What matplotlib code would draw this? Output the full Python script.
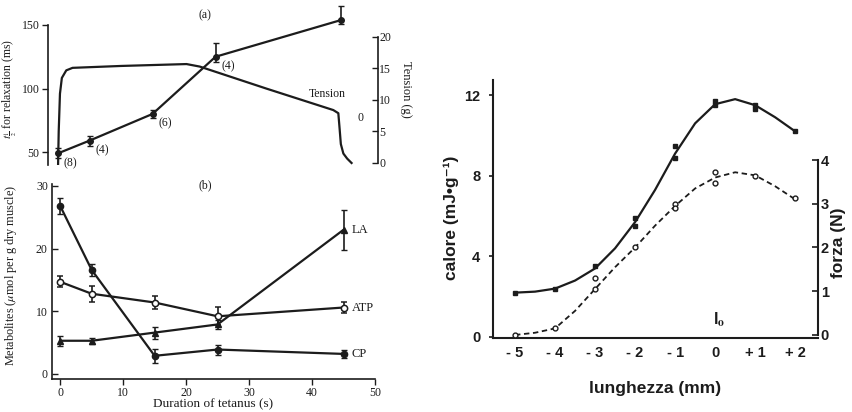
import numpy as np
import matplotlib
matplotlib.use("Agg")
import matplotlib.pyplot as plt

plt.rcParams['mathtext.fontset'] = 'stix'

# ---- panel (a): half-relaxation time and tension during a tetanus
time_s = [0, 5, 15, 25, 45]
thalf_ms = [49, 59, 80, 125, 154]
thalf_err_lo = [4, 4, 3, 4, 3]
thalf_err_hi = [4, 4, 3, 11, 11]
thalf_n = ["(8)", "(4)", "(6)", "(4)", "(7)"]

tension_t = [0.0, 0.1, 0.3, 0.6, 1.3, 2.3, 10, 20.4, 22.5, 33.1, 43.7, 44.5, 44.7, 44.9, 45.3, 45.9, 46.6]
tension_g = [-0.3, 5, 11, 13.5, 14.7, 15.1, 15.4, 15.7, 15.3, 11.8, 8.4, 7.9, 5.5, 3.0, 1.5, 0.7, 0]

# ---- panel (b): metabolites
cp = [26.8, 16.6, 2.9, 3.9, 3.2]
cp_err = [1.3, 1.0, 1.1, 0.8, 0.7]
atp = [14.7, 12.8, 11.4, 9.2, 10.6]
atp_err = [0.85, 1.3, 1.0, 1.45, 0.95]
la = [5.3, 5.3, 6.6, 7.9, 23.0]
la_err = [0.8, 0.5, 0.95, 0.65, 3.2]

# ---- right chart: heat and force vs. length
length_mm = [-5, -4, -3, -2, -1, 0, 1, 2]
length_labels = ["- 5", "- 4", "- 3", "- 2", "- 1", "0", "+ 1", "+ 2"]
heat_x = [-5, -4, -3, -2, -2, -1, -1, 0, 0, 1, 1, 2]
heat_y = [2.2, 2.4, 3.5, 5.9, 5.5, 9.5, 8.9, 11.7, 11.5, 11.5, 11.3, 10.2]
force_x = [-5, -4, -3, -3, -2, -1, -1, 0, 0, 1, 2]
force_y = [0.0, 0.15, 1.05, 1.3, 2.0, 3.0, 2.9, 3.72, 3.47, 3.63, 3.13]
curve_x = [-5, -4.5, -4, -3.5, -3, -2.5, -2, -1.5, -1, -0.5, 0, 0.5, 1, 1.5, 2]
heat_curve = [2.2, 2.25, 2.4, 2.8, 3.4, 4.4, 5.7, 7.3, 9.1, 10.6, 11.55, 11.8, 11.5, 10.9, 10.2]
force_curve = [0.0, 0.05, 0.15, 0.55, 1.05, 1.55, 2.0, 2.5, 2.95, 3.35, 3.6, 3.72, 3.65, 3.4, 3.1]

W, H = 852, 412
ink = '#1c1c1c'
serif = ['Liberation Serif', 'DejaVu Serif']
sans = ['Liberation Sans', 'DejaVu Sans']

fig = plt.figure(figsize=(W / 100, H / 100), dpi=100)


def box(x0, y0, x1, y1):
    # pixel box (top-left origin) -> figure fraction rect
    return [x0 / W, 1 - y1 / H, (x1 - x0) / W, (y1 - y0) / H]


# ================= panel (a)
ax_a = fig.add_axes(box(48, 25, 378, 165))
ax_a.set_xlim(-1.6, 50.8)
ax_a.set_ylim(39.8, 150)
for s in ['top', 'right', 'bottom']:
    ax_a.spines[s].set_visible(False)
ax_a.spines['left'].set_color(ink)
ax_a.spines['left'].set_linewidth(1.2)
ax_a.set_xticks([])
ax_a.set_yticks([50, 100, 150])
ax_a.tick_params(axis='y', direction='out', length=4, width=1, colors=ink, labelsize=8.5, pad=2)
for lab in ax_a.get_yticklabels():
    lab.set_family(serif)

ax_a.errorbar(time_s, thalf_ms, yerr=[thalf_err_lo, thalf_err_hi], color=ink, lw=1.6,
              marker='o', ms=4, capsize=2.5, elinewidth=1.2, clip_on=False, zorder=5)
for t, v, n in zip(time_s, thalf_ms, thalf_n):
    if t == 45:
        off = (-8, -12)
    else:
        off = (4, -9)
    ax_a.annotate(n, (t, v), xytext=off, textcoords='offset points', fontsize=8.5,
                  family=serif, color=ink)
ax_a.annotate(r"t$_{\frac{1}{2}}$", (45, 154), xytext=(4, -1), textcoords='offset points',
              fontsize=8.5, family=serif, color=ink)
ax_a.set_ylabel(r"$t_{\frac{1}{2}}$ for relaxation (ms)", family=serif, fontsize=8.5, color=ink)
ax_a.yaxis.set_label_coords(-0.088, 0.54)

ax_t = ax_a.twinx()
ax_t.set_ylim(-0.32, 21.9)
for s in ['top', 'left', 'bottom']:
    ax_t.spines[s].set_visible(False)
ax_t.spines['right'].set_bounds(0, 20)
ax_t.spines['right'].set_color(ink)
ax_t.spines['right'].set_linewidth(1.2)
ax_t.set_yticks([0, 5, 10, 15, 20])
ax_t.tick_params(axis='y', direction='in', length=4, width=1, colors=ink, labelsize=8.5, pad=1)
for lab in ax_t.get_yticklabels():
    lab.set_family(serif)
ax_t.plot(tension_t, tension_g, color=ink, lw=1.6)
ax_t.text(1.085, 0.54, "Tension (g)", transform=ax_t.transAxes, rotation=270,
          ha='center', va='center', family=serif, fontsize=9, color=ink)

fig.text(205 / W, 1 - 15 / H, "(a)", ha='center', va='center', family=serif, fontsize=8.5, color=ink)
fig.text(327 / W, 1 - 94 / H, "Tension", ha='center', va='center', family=serif, fontsize=8.5, color=ink)
fig.text(360 / W, 1 - 118 / H, "0", ha='center', va='center', family=serif, fontsize=8.5, color=ink)

# ================= panel (b)
ax_b = fig.add_axes(box(52, 184, 375, 379))
ax_b.set_xlim(-1.3, 50)
ax_b.set_ylim(-0.8, 30.3)
for s in ['top', 'right']:
    ax_b.spines[s].set_visible(False)
for s in ['left', 'bottom']:
    ax_b.spines[s].set_color(ink)
    ax_b.spines[s].set_linewidth(1.2)
ax_b.set_xticks([0, 10, 20, 30, 40, 50])
ax_b.set_yticks([0, 10, 20, 30])
ax_b.tick_params(axis='x', direction='out', length=4, width=1, colors=ink, labelsize=8.5, pad=2)
ax_b.tick_params(axis='y', direction='in', length=4, width=1, colors=ink, labelsize=8.5, pad=3)
for lab in ax_b.get_xticklabels() + ax_b.get_yticklabels():
    lab.set_family(serif)

kw = dict(color=ink, lw=1.6, ms=4.5, capsize=2.5, elinewidth=1.2, clip_on=False, zorder=5)
ax_b.errorbar(time_s, cp, yerr=cp_err, marker='o', **kw)
ax_b.errorbar(time_s, atp, yerr=atp_err, marker='o', mfc='white', mew=1.1, **kw)
ax_b.errorbar(time_s, la, yerr=la_err, marker='^', **kw)

ax_b.annotate("LA", (45, la[-1]), xytext=(6, 0), textcoords='offset points', va='center',
              family=serif, fontsize=9, color=ink)
ax_b.annotate("ATP", (45, atp[-1]), xytext=(6, 0), textcoords='offset points', va='center',
              family=serif, fontsize=9, color=ink)
ax_b.annotate("CP", (45, cp[-1]), xytext=(6, 0), textcoords='offset points', va='center',
              family=serif, fontsize=9, color=ink)

ax_b.set_xlabel("Duration of tetanus (s)", family=serif, fontsize=9.5, color=ink)
ax_b.xaxis.set_label_coords(0.5, -0.1)
ax_b.set_ylabel(r"Metabolites ($\mu$mol per g dry muscle)", family=serif, fontsize=8.8, color=ink)
ax_b.yaxis.set_label_coords(-0.103, 0.53)
fig.text(205 / W, 1 - 185 / H, "(b)", ha='center', va='center', family=serif, fontsize=8.5, color=ink)

# ================= right chart
ax_r = fig.add_axes(box(493, 80, 818, 338))
ax_r.set_xlim(-5.55, 2.57)
ax_r.set_ylim(-0.05, 12.75)
for s in ['top', 'right']:
    ax_r.spines[s].set_visible(False)
for s in ['left', 'bottom']:
    ax_r.spines[s].set_color(ink)
    ax_r.spines[s].set_linewidth(1.5)
ax_r.set_xticks(length_mm)
ax_r.set_xticklabels(length_labels)
ax_r.set_yticks([0, 4, 8, 12])
ax_r.tick_params(axis='x', length=0, colors=ink, labelsize=10.5, pad=6)
ax_r.tick_params(axis='y', direction='out', length=3, width=1.2, colors=ink, labelsize=10.5, pad=6)
for lab in ax_r.get_xticklabels() + ax_r.get_yticklabels():
    lab.set_family(sans)
    lab.set_fontweight('bold')

ax_r.plot(curve_x, heat_curve, color=ink, lw=1.6, zorder=3)
ax_r.plot(heat_x, heat_y, 's', color=ink, ms=3.5, zorder=4)

ax_f = ax_r.twinx()
ax_f.set_ylim(-0.07, 5.83)
for s in ['top', 'left', 'bottom']:
    ax_f.spines[s].set_visible(False)
ax_f.spines['right'].set_bounds(0, 4)
ax_f.spines['right'].set_color(ink)
ax_f.spines['right'].set_linewidth(1.5)
ax_f.set_yticks([0, 1, 2, 3, 4])
ax_f.tick_params(axis='y', direction='in', length=4, width=1.2, colors=ink, labelsize=10.5, pad=2)
for lab in ax_f.get_yticklabels():
    lab.set_family(sans)
    lab.set_fontweight('bold')
ax_f.plot(curve_x, force_curve, color=ink, lw=1.3, ls=(0, (3, 2)), zorder=3)
ax_f.plot(force_x, force_y, 'o', color=ink, mfc='white', mew=1.0, ms=3.5, zorder=4)

ax_r.set_xlabel("lunghezza (mm)", family=sans, fontweight='bold', fontsize=12.5, color=ink)
ax_r.xaxis.set_label_coords(0.5, -0.165)
ax_r.set_ylabel("calore (mJ•g⁻¹)", family=sans, fontweight='bold', fontsize=12.5, color=ink)
ax_r.yaxis.set_label_coords(-0.105, 0.465)
ax_f.text(1.062, 0.37, "forza (N)", transform=ax_r.transAxes, rotation=90, ha='center',
          va='center', family=sans, fontweight='bold', fontsize=12.5, color=ink)
ax_r.annotate(r"l$_{\mathbf{o}}$", (0, 0), xytext=(3, 6), textcoords='offset points',
              ha='center', va='bottom', family=sans, fontweight='bold', fontsize=12, color=ink)

fig.savefig("out.png", dpi=100)
